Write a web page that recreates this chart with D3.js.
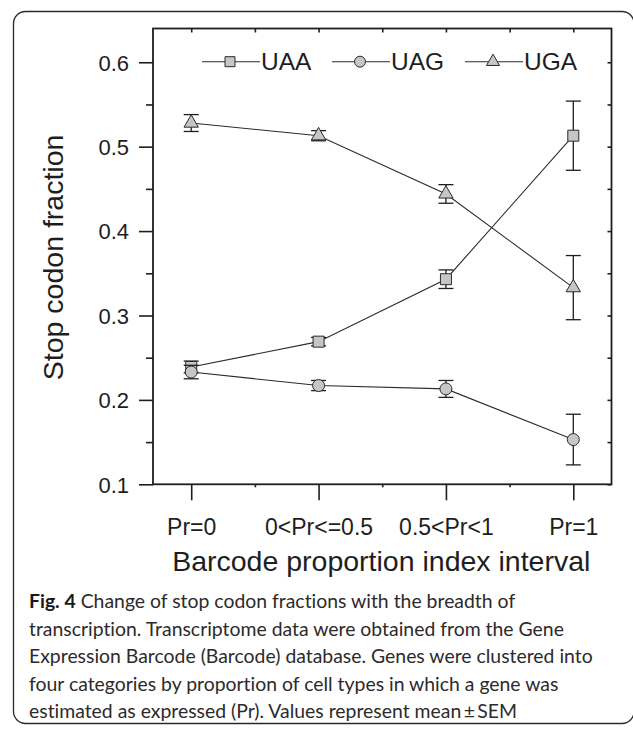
<!DOCTYPE html>
<html>
<head>
<meta charset="utf-8">
<script src="https://cdn.jsdelivr.net/npm/d3@7"></script>
<style>
  html, body { margin: 0; padding: 0; background: #fff; }
  svg { display: block; }
</style>
</head>
<body>
<svg id="fig" width="633" height="730"></svg>
<script>
// Stop codon fractions by Barcode proportion index interval (mean ± SEM)
const categories = ["Pr=0", "0<Pr<=0.5", "0.5<Pr<1", "Pr=1"];
const seriesNames = ["UAA", "UAG", "UGA"];
const uaaMean = [0.239, 0.269, 0.343, 0.513];
const uaaSem  = [0.007, 0.005, 0.011, 0.041];
const uagMean = [0.233, 0.217, 0.213, 0.153];
const uagSem  = [0.008, 0.006, 0.010, 0.030];
const ugaMean = [0.528, 0.513, 0.444, 0.333];
const ugaSem  = [0.010, 0.006, 0.011, 0.038];
const yMajorTicks = [0.1, 0.2, 0.3, 0.4, 0.5, 0.6];
const yMinorTicks = [0.15, 0.25, 0.35, 0.45, 0.55];
const xTitle = "Barcode proportion index interval";
const yTitle = "Stop codon fraction";
const captionLines = [
  ["Fig. 4", " Change of stop codon fractions with the breadth of"],
  ["", "transcription. Transcriptome data were obtained from the Gene"],
  ["", "Expression Barcode (Barcode) database. Genes were clustered into"],
  ["", "four categories by proportion of cell types in which a gene was"],
  ["", "estimated as expressed (Pr). Values represent mean\u2009\u00b1\u2009SEM"]
];

const series = [
  { name: seriesNames[0], mean: uaaMean, sem: uaaSem, symbol: d3.symbolSquare,   size: 121, legendSize: 100 },
  { name: seriesNames[1], mean: uagMean, sem: uagSem, symbol: d3.symbolCircle,   size: 113, legendSize: 95 },
  { name: seriesNames[2], mean: ugaMean, sem: ugaSem, symbol: d3.symbolTriangle, size: 89,  legendSize: 74 }
];

const svg = d3.select("#fig");
const ink = "#1e1e1e";
const markerFill = "#c6c6c6";
const chartFont = "'Liberation Sans', Arial, Helvetica, sans-serif";

// outer figure panel
svg.append("rect")
  .attr("x", 13.5).attr("y", 11.5)
  .attr("width", 620.5).attr("height", 712)
  .attr("rx", 12).attr("ry", 12)
  .attr("fill", "none").attr("stroke", "#2a2a2a").attr("stroke-width", 1.3);

// plot area
const plotL = 153, plotR = 611.5, plotT = 28.5, plotB = 484.3;
const x = d3.scaleLinear().domain([-0.3, 3.3]).range([plotL, plotR]);
const y = d3.scaleLinear().domain([0.1, 0.64]).range([plotB, plotT]);

const g = svg.append("g");

function styleAxis(sel) {
  sel.select(".domain").remove();
  sel.selectAll(".tick line").attr("stroke", ink).attr("stroke-width", 1.6);
  sel.selectAll(".tick text").attr("fill", ink).style("font-family", chartFont);
}

// left axis: major + minor ticks
g.append("g").attr("transform", `translate(${plotL},0)`)
  .call(d3.axisLeft(y).tickValues(yMajorTicks).tickSize(14).tickPadding(10).tickFormat(d3.format(".1f")))
  .call(styleAxis)
  .call(s => s.selectAll(".tick text").style("font-size", "22px").attr("dy", "0.36em"));
g.append("g").attr("transform", `translate(${plotL},0)`)
  .call(d3.axisLeft(y).tickValues(yMinorTicks).tickSize(7).tickFormat(""))
  .call(styleAxis);

// right axis: inward ticks
g.append("g").attr("transform", `translate(${plotR},0)`)
  .call(d3.axisRight(y).tickValues(yMajorTicks.concat(yMinorTicks)).tickSize(-4).tickFormat(""))
  .call(styleAxis);

// bottom axis: category ticks + half-step minor ticks
g.append("g").attr("transform", `translate(0,${plotB})`)
  .call(d3.axisBottom(x).tickValues(d3.range(categories.length)).tickSize(16).tickPadding(18)
    .tickFormat(i => categories[i]))
  .call(styleAxis)
  .call(s => s.selectAll(".tick text").style("font-size", "23px").attr("dy", "0.71em"));
g.append("g").attr("transform", `translate(0,${plotB})`)
  .call(d3.axisBottom(x).tickValues([0.5, 1.5, 2.5]).tickSize(3).tickFormat(""))
  .call(styleAxis);

// top axis: inward ticks
g.append("g").attr("transform", `translate(0,${plotT})`)
  .call(d3.axisTop(x).tickValues([0, 0.5, 1, 1.5, 2, 2.5, 3]).tickSize(-4).tickFormat(""))
  .call(styleAxis);

// frame
g.append("rect")
  .attr("x", plotL).attr("y", plotT)
  .attr("width", plotR - plotL).attr("height", plotB - plotT)
  .attr("fill", "none").attr("stroke", ink).attr("stroke-width", 1.8);

// axis titles
g.append("text")
  .attr("x", (plotL + plotR) / 2 - 1).attr("y", 571)
  .attr("text-anchor", "middle")
  .style("font-family", chartFont).style("font-size", "28.5px").attr("fill", ink)
  .text(xTitle);
g.append("text")
  .attr("transform", `translate(63,${(plotT + plotB) / 2 + 1}) rotate(-90)`)
  .attr("text-anchor", "middle")
  .style("font-family", chartFont).style("font-size", "28.5px").attr("fill", ink)
  .text(yTitle);

// series: connecting lines, error bars, markers
const line = d3.line().x((d, i) => x(i)).y(d => y(d));
const capHalf = 7.5;

series.forEach(s => {
  const sg = g.append("g");
  sg.append("path")
    .attr("d", line(s.mean))
    .attr("fill", "none").attr("stroke", "#2b2b2b").attr("stroke-width", 1.1);

  const eb = sg.selectAll(".eb").data(s.mean.map((m, i) => ({ i, m, e: s.sem[i] })))
    .enter().append("g");
  eb.append("line")
    .attr("x1", d => x(d.i)).attr("x2", d => x(d.i))
    .attr("y1", d => y(d.m + d.e)).attr("y2", d => y(d.m - d.e))
    .attr("stroke", ink).attr("stroke-width", 1.3);
  [1, -1].forEach(sign => {
    eb.append("line")
      .attr("x1", d => x(d.i) - capHalf).attr("x2", d => x(d.i) + capHalf)
      .attr("y1", d => y(d.m + sign * d.e)).attr("y2", d => y(d.m + sign * d.e))
      .attr("stroke", ink).attr("stroke-width", 1.3);
  });

  sg.selectAll(".mk").data(s.mean).enter().append("path")
    .attr("d", d3.symbol().type(s.symbol).size(s.size))
    .attr("transform", (d, i) => `translate(${x(i)},${y(d)})`)
    .attr("fill", markerFill).attr("stroke", "#2b2b2b").attr("stroke-width", 1);
});

// legend
const legendY = 61.7;
const legendStarts = [202, 332, 465];
series.forEach((s, k) => {
  const lx = legendStarts[k];
  const lg = g.append("g").attr("transform", `translate(${lx},${legendY})`);
  lg.append("line").attr("x1", 0).attr("x2", 58).attr("y1", 0).attr("y2", 0)
    .attr("stroke", "#2b2b2b").attr("stroke-width", 1.1);
  lg.append("path")
    .attr("d", d3.symbol().type(s.symbol).size(s.legendSize))
    .attr("transform", "translate(28,0)")
    .attr("fill", markerFill).attr("stroke", "#2b2b2b").attr("stroke-width", 1);
  lg.append("text")
    .attr("x", 59).attr("y", 8.5)
    .style("font-family", chartFont).style("font-size", "24.5px").attr("fill", ink)
    .text(s.name);
});

// caption
const capFont = "Lato, 'Open Sans', sans-serif";
const capBaselines = [608, 635.5, 663, 690.5, 718];
captionLines.forEach((ln, i) => {
  const t = svg.append("text")
    .attr("x", 29).attr("y", capBaselines[i])
    .style("font-family", capFont).style("font-size", "19.4px")
    .style("font-variant-ligatures", "none")
    .attr("fill", "#2d2a2b");
  if (ln[0]) t.append("tspan").style("font-weight", "bold").attr("fill", "#1a1718").text(ln[0]);
  t.append("tspan").text(ln[1]);
});
</script>
</body>
</html>
